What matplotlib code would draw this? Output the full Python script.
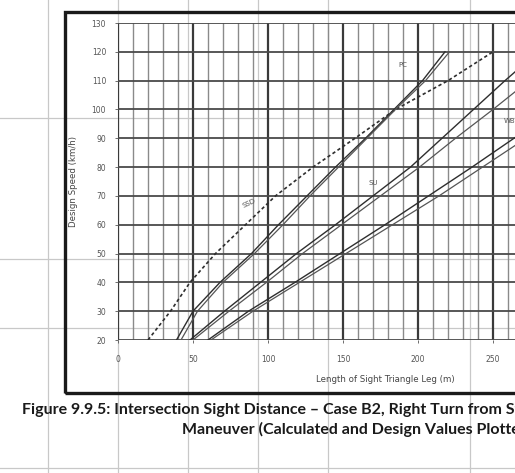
import matplotlib
matplotlib.use("Agg")
import matplotlib.pyplot as plt
from matplotlib.lines import Line2D
from matplotlib.patches import Rectangle

# ---------------- data ----------------
speeds = [20, 30, 40, 50, 60, 70, 80, 90, 100, 110, 120]
ssd = [20, 35, 48, 65, 85, 105, 130, 158, 185, 220, 250]
pc_calc = [39, 50, 68, 89, 107, 126, 145, 165, 184, 203, 218]
pc_design = [42, 53, 70, 91, 110, 128, 147, 166, 185, 205, 221]
su_calc = [48, 71, 95, 119, 145, 170, 195, 216, 237, 258, 280]
su_design = [50, 74, 99, 123, 149, 175, 201, 225, 250, 274, 298]
wb_calc = [60, 87, 118, 148, 178, 207, 236, 264, 293, 322, 350]
wb_design = [62, 90, 121, 152, 183, 214, 243, 272, 301, 330, 360]

x_ticks = [0, 50, 100, 150, 200, 250]
y_ticks = [20, 30, 40, 50, 60, 70, 80, 90, 100, 110, 120, 130]
x_label = "Length of Sight Triangle Leg (m)"
y_label = "Design Speed (km/h)"
curve_labels = {"PC": (190, 115.5), "SU": (170, 74.5), "SSD": (87, 67.5), "WB-20": (265, 96)}
caption_1 = "Figure 9.9.5: Intersection Sight Distance \u2013 Case B2, Right Turn from Stop"
caption_2 = "Maneuver (Calculated and Design Values Plotted)"

# ---------------- layout helpers ----------------
W, H = 515, 473
def fx(px):
    return px / W
def fy(py):
    return 1 - py / H

fig = plt.figure(figsize=(W / 100, H / 100), dpi=100)
fig.patch.set_facecolor("white")

# faint document table lines behind the scanned figure
doc_col = "#c8c8c8"
for px in [48, 118, 188, 258, 328, 470]:
    fig.add_artist(Line2D([fx(px), fx(px)], [0, 1], transform=fig.transFigure,
                          color=doc_col, lw=0.9, zorder=0.2))
for py in [118, 259, 328, 468]:
    fig.add_artist(Line2D([0, 1], [fy(py), fy(py)], transform=fig.transFigure,
                          color=doc_col, lw=0.9, zorder=0.2))

# thick outer frame of the figure box
fig.add_artist(Rectangle((fx(65), fy(393)), 1.2, fy(12) - fy(393),
                         transform=fig.transFigure, fill=False,
                         edgecolor="#1a1a1a", lw=2.4, zorder=3))

# axes: x from px 118 (0 m) with 1.5 px per m, y from 340 (20) to 23 (130)
x_max = 350
ax_left, ax_right = 118, 118 + 1.5 * x_max
ax = fig.add_axes([fx(ax_left), fy(340), fx(ax_right) - fx(ax_left), fy(23) - fy(340)])
ax.set_facecolor("none")
ax.set_zorder(1)
ax.set_xlim(0, x_max)
ax.set_ylim(20, 130)

# grid
for xv in range(0, x_max + 1, 10):
    major = xv % 50 == 0
    ax.axvline(xv, color="#3a3a3a" if major else "#8a8a8a",
               lw=1.6 if major else 1.0, zorder=1)
for yv in y_ticks:
    ax.axhline(yv, color="#4a4a4a", lw=1.3, zorder=1)

for s in ax.spines.values():
    s.set_visible(False)

ax.set_xticks(x_ticks)
ax.set_yticks(y_ticks)
ax.tick_params(axis="both", labelsize=5.5, colors="#555555", length=2.5, width=0.6, pad=6)
ax.tick_params(axis="x", pad=8)

ax.set_xlabel(x_label, fontsize=6.2, color="#444444")
ax.xaxis.set_label_coords(178 / x_max, -0.11)
ax.set_ylabel(y_label, fontsize=6.2, color="#444444", labelpad=10)

line_col = "#2e2e2e"
ax.plot(ssd, speeds, color=line_col, lw=1.2, linestyle=(0, (2.0, 1.6)), zorder=4)
for calc, design in [(pc_calc, pc_design), (su_calc, su_design), (wb_calc, wb_design)]:
    ax.plot(calc, speeds, color=line_col, lw=1.0, zorder=4)
    ax.plot(design, speeds, color="#555555", lw=0.9, zorder=4)

for name, (xv, yv) in curve_labels.items():
    ax.text(xv, yv, name, fontsize=5, color="#555555", ha="center", va="center",
            rotation=25 if name == "SSD" else 0, zorder=5)

# caption
fig.text(fx(22), fy(410), caption_1, fontsize=11.5, fontweight="bold",
         family="Lato", color="#1a1a1a", ha="left", va="center")
fig.text(fx(182), fy(429), caption_2, fontsize=11.5, fontweight="bold",
         family="Lato", color="#1a1a1a", ha="left", va="center")

fig.savefig("out.png", dpi=100)
